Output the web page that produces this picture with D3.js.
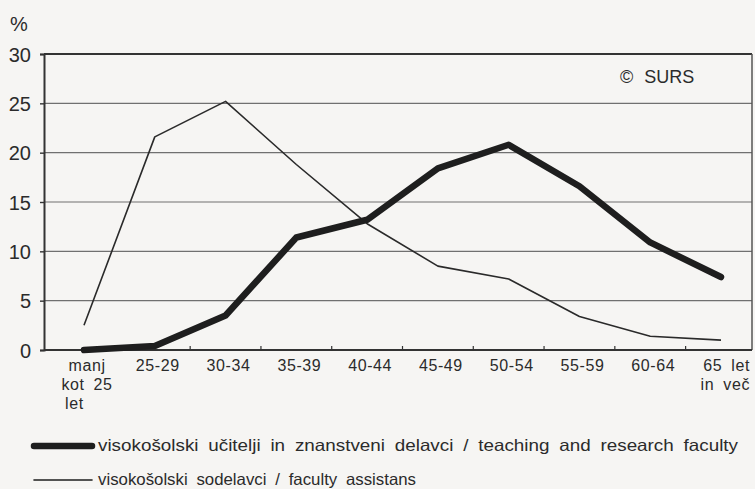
<!DOCTYPE html>
<html>
<head>
<meta charset="utf-8">
<script src="https://cdn.jsdelivr.net/npm/d3@7/dist/d3.min.js"></script>
<style>
  body { margin: 0; background: #f6f5f3; }
  svg { display: block; font-family: "Liberation Sans", Arial, sans-serif; }
</style>
</head>
<body>
<script>
// age groups (tick labels, split in lines)
const ageGroups = ["manj kot 25 let", "25-29", "30-34", "35-39", "40-44", "45-49", "50-54", "55-59", "60-64", "65 let in več"];
const ageLabels = [["manj", "kot 25", "let"], ["25-29"], ["30-34"], ["35-39"], ["40-44"], ["45-49"], ["50-54"], ["55-59"], ["60-64"], ["65 let", "in več"]];

// teaching and research faculty (%)
const teachers = [0.0, 0.4, 3.5, 11.4, 13.2, 18.4, 20.8, 16.6, 10.9, 7.4];
// faculty assistants (%)
const assistants = [2.5, 21.6, 25.2, 18.8, 12.8, 8.5, 7.2, 3.4, 1.4, 1.0];

const yTicks = [0, 5, 10, 15, 20, 25, 30];

const legendItems = [
  { label: "visokošolski učitelji in znanstveni delavci / teaching and research faculty", w: 6.5 },
  { label: "visokošolski sodelavci / faculty assistans", w: 1.6 }
];

const W = 755, H = 489;
const plotL = 44, plotR = 752, plotT = 54, plotB = 350;
const ink = "#2b2b2b";

const svg = d3.select("body").append("svg")
  .attr("width", W).attr("height", H);

const x = d3.scalePoint().domain(ageGroups).range([84, 721]);
const y = d3.scaleLinear().domain([0, 30]).range([plotB, plotT]);
const step = x.step();

// gridlines
svg.append("g").selectAll("line")
  .data(yTicks.filter(d => d > 0 && d < 30))
  .join("line")
  .attr("x1", plotL).attr("x2", plotR)
  .attr("y1", d => y(d)).attr("y2", d => y(d))
  .attr("stroke", "#707070").attr("stroke-width", 1.2);

// frame top + right
svg.append("line").attr("x1", plotL).attr("x2", plotR).attr("y1", y(30)).attr("y2", y(30))
  .attr("stroke", "#333").attr("stroke-width", 1.8);
svg.append("line").attr("x1", plotR).attr("x2", plotR).attr("y1", y(30)).attr("y2", y(0))
  .attr("stroke", "#555").attr("stroke-width", 1.5);

// y axis
const yAxis = d3.axisLeft(y).tickValues(yTicks).tickSize(4).tickPadding(8);
const gy = svg.append("g").attr("transform", `translate(${plotL},0)`).call(yAxis);
gy.select(".domain").attr("stroke", "#333").attr("stroke-width", 2);
gy.selectAll(".tick line").attr("stroke", "#333").attr("stroke-width", 1.4);
gy.selectAll(".tick text").attr("font-size", 20).attr("fill", ink)
  .attr("x", -13).attr("dy", "0.35em");

svg.append("text").attr("x", 10).attr("y", 31).attr("font-size", 20).attr("fill", ink).text("%");

// x axis
svg.append("line").attr("x1", plotL).attr("x2", plotR).attr("y1", y(0)).attr("y2", y(0))
  .attr("stroke", "#333").attr("stroke-width", 2);
svg.append("g").selectAll("line")
  .data(ageGroups.slice(1))
  .join("line")
  .attr("x1", d => x(d) - step / 2).attr("x2", d => x(d) - step / 2)
  .attr("y1", y(0) - 4).attr("y2", y(0) + 1)
  .attr("stroke", "#333").attr("stroke-width", 1.2);

const last = ageGroups.length - 1;
const xl = svg.append("g").selectAll("text")
  .data(ageGroups)
  .join("text")
  .attr("font-size", 16).attr("fill", ink)
  .attr("letter-spacing", 0.6).attr("word-spacing", 4)
  .attr("text-anchor", (d, i) => i === last ? "end" : "middle")
  .attr("transform", (d, i) => `translate(${i === last ? x(d) + 29 : x(d) + 3},${y(0) + 21})`);
xl.selectAll("tspan")
  .data((d, i) => ageLabels[i].map((t, j) => ({ t, j, first: i === 0 })))
  .join("tspan")
  .attr("x", d => (d.first && d.j === 2 ? -22 : 0))
  .attr("text-anchor", d => (d.first && d.j === 2 ? "start" : null))
  .attr("dy", d => d.j === 0 ? 0 : 19)
  .text(d => d.t);

// lines
const line = d3.line().x((d, i) => x(ageGroups[i])).y(d => y(d));
svg.append("path").datum(assistants).attr("d", line)
  .attr("fill", "none").attr("stroke", "#2a2a2a").attr("stroke-width", 1.6)
  .attr("stroke-linejoin", "round");
svg.append("path").datum(teachers).attr("d", line)
  .attr("fill", "none").attr("stroke", "#1e1e1e").attr("stroke-width", 6.5)
  .attr("stroke-linejoin", "round").attr("stroke-linecap", "round");

// copyright
svg.append("text").attr("x", 620).attr("y", 83).attr("font-size", 18).attr("fill", ink)
  .attr("word-spacing", 6).text("© SURS");

// legend (the scan is a little stretched sideways, so glyphs are widened to fit)
const legendLen = [640, 318];
const lg = svg.append("g").selectAll("g")
  .data(legendItems)
  .join("g")
  .attr("transform", (d, i) => `translate(33,${446 + i * 34})`);
lg.append("line").attr("x1", 1).attr("x2", 59).attr("y1", 0).attr("y2", 0)
  .attr("stroke", "#1e1e1e").attr("stroke-width", d => d.w).attr("stroke-linecap", "round");
lg.append("text").attr("x", 65).attr("y", 5)
  .attr("font-size", 16.5).attr("fill", ink)
  .attr("word-spacing", 4)
  .attr("textLength", (d, i) => legendLen[i]).attr("lengthAdjust", "spacingAndGlyphs")
  .text(d => d.label);
</script>
</body>
</html>
